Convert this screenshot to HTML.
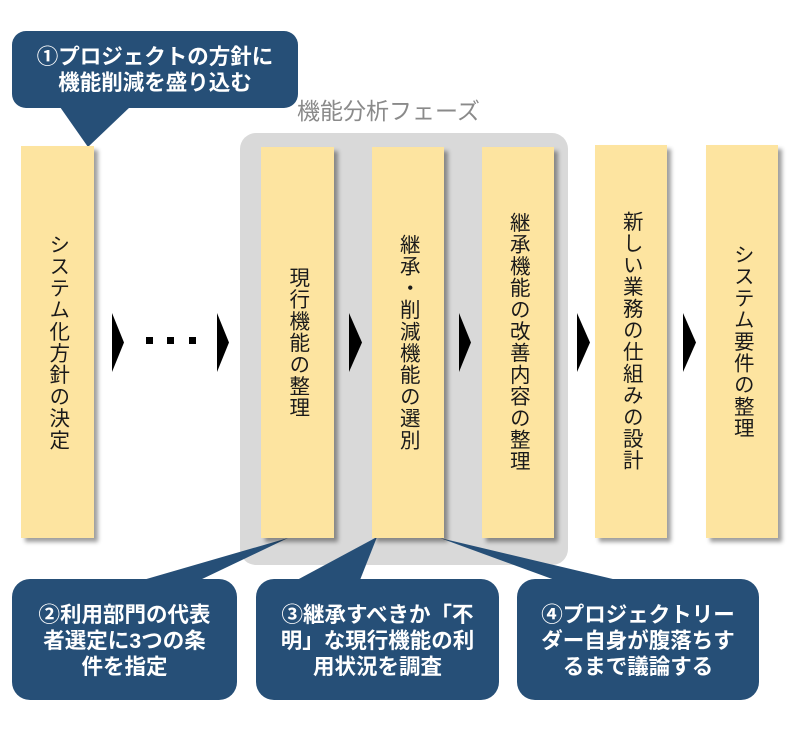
<!DOCTYPE html>
<html><head><meta charset="utf-8">
<style>
html,body{margin:0;padding:0;background:#fff;}
body{width:800px;height:734px;position:relative;overflow:hidden;font-family:"Liberation Sans","Noto Sans CJK JP",sans-serif;}
.box{position:absolute;top:146px;height:392px;background:#fde4a0;box-shadow:4px 4px 4px rgba(0,0,0,0.38);display:flex;align-items:center;justify-content:center;}
.box span{writing-mode:vertical-rl;font-family:"Noto Sans CJK JP",sans-serif;font-size:20.5px;letter-spacing:1.2px;color:#1a1a1a;line-height:1;margin-left:4px;}
.ct{position:absolute;color:#fff;font-family:"Liberation Sans","Noto Sans CJK JP",sans-serif;font-weight:bold;font-size:21.5px;line-height:26px;text-align:center;white-space:nowrap;}
</style></head><body>
<svg width="800" height="734" style="position:absolute;left:0;top:0">
  <rect x="240" y="133" width="328" height="432" rx="16" fill="#d9d9d9"/>
  <!-- arrows -->
  <g fill="#000">
    <polygon points="112,313 124,342.5 112,372"/>
    <polygon points="217,313 229,342.5 217,372"/>
    <polygon points="349,313 362,342.5 349,372"/>
    <polygon points="459,313 471,342.5 459,372"/>
    <polygon points="577,313 590,342.5 577,372"/>
    <polygon points="683,313 696,342.5 683,372"/>
    <rect x="146" y="337" width="7" height="7"/>
    <rect x="167" y="337" width="7" height="7"/>
    <rect x="189" y="337" width="7" height="7"/>
  </g>
  <!-- callouts -->
  <g fill="#264f77">
    <rect x="12" y="31" width="286" height="77" rx="14"/>
    <polygon points="60,107 130,107 88,147"/>
    <rect x="12" y="579" width="225" height="121" rx="18"/>
    <polygon points="143,580 200,580 288,538"/>
    <rect x="256" y="579" width="243" height="121" rx="18"/>
    <polygon points="297,580 360,580 377,537"/>
    <rect x="517" y="579" width="242" height="121" rx="18"/>
    <polygon points="555,580 617,580 440,538"/>
  </g>
</svg>

<div style="position:absolute;left:297px;top:96px;font-family:'Liberation Sans','Noto Sans CJK JP',sans-serif;font-size:23px;line-height:30px;color:#8a8a8a;white-space:nowrap;">機能分析フェーズ</div>

<div class="box" style="left:21px;width:73px;"><span>システム化方針の決定</span></div>
<div class="box" style="left:261px;width:73px;top:147px;height:391px;"><span>現行機能の整理</span></div>
<div class="box" style="left:372px;width:72px;top:147px;height:391px;"><span>継承・削減機能の選別</span></div>
<div class="box" style="left:482px;width:72px;top:147px;height:391px;"><span>継承機能の改善内容の整理</span></div>
<div class="box" style="left:595px;width:72px;top:145px;height:393px;"><span>新しい業務の仕組みの設計</span></div>
<div class="box" style="left:706px;width:72px;top:145px;height:393px;"><span>システム要件の整理</span></div>

<div class="ct" style="left:12px;width:286px;top:44px;">①プロジェクトの方針に<br>機能削減を盛り込む</div>
<div class="ct" style="left:12px;width:225px;top:602px;">②利用部門の代表<br>者選定に3つの条<br>件を指定</div>
<div class="ct" style="left:256px;width:243px;top:602px;">③継承すべきか「不<br>明」な現行機能の利<br>用状況を調査</div>
<div class="ct" style="left:517px;width:242px;top:602px;">④プロジェクトリー<br>ダー自身が腹落ちす<br>るまで議論する</div>
</body></html>
